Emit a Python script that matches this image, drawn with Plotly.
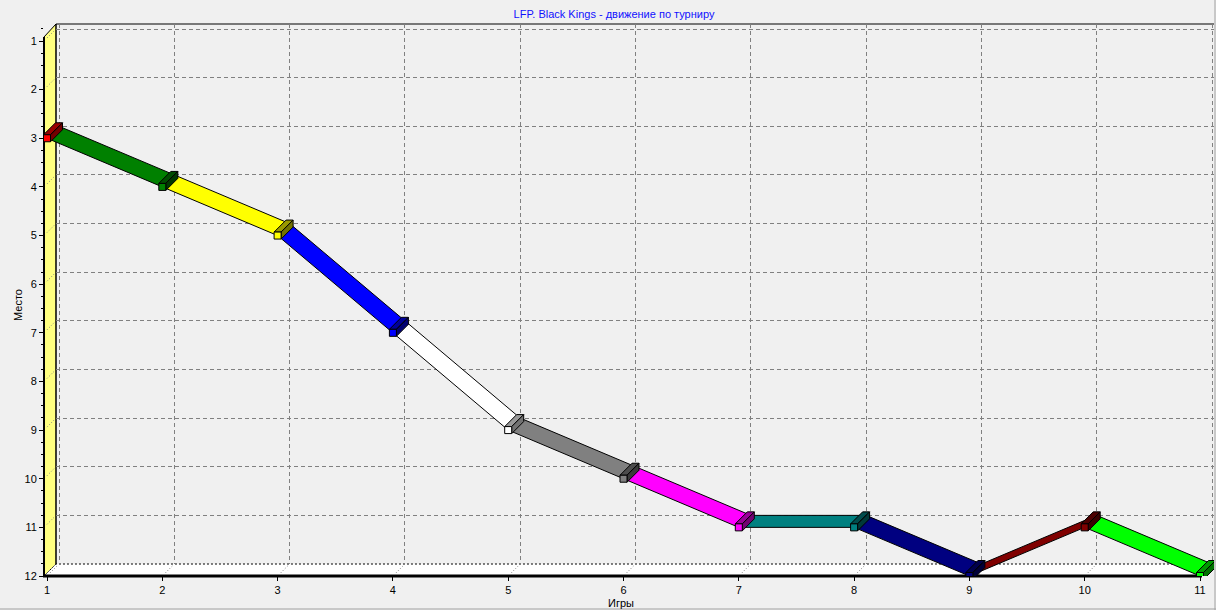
import plotly.graph_objects as go

# ---------------- data ----------------
games = list(range(1, 12))
places = [3, 4, 5, 7, 9, 10, 11, 11, 12, 11, 12]
point_colors = ["#FF0000", "#008000", "#FFFF00", "#0000FF", "#FFFFFF", "#808080",
                "#FF00FF", "#008080", "#000080", "#800000", "#00FF00"]
x_ticks = list(range(1, 12))
y_ticks = list(range(1, 13))
title_text = "LFP. Black Kings - движение по турниру"
x_title = "Игры"
y_title = "Место"

# ---------------- geometry (pixels) ----------------
W, H = 1216, 610
L, R, T, B = 44, 1214, 24, 576      # whole 3D box area
DEPTH = 12                          # 3D depth in px
X_FIRST_PX, X_LAST_PX = 47, 1200    # front-plane pixel of first/last game
Y_FIRST_PX, Y_LAST_PX = 41, 576     # front-plane pixel of place 1 / place 12
FRONT_RIGHT = 1202

g0, g1 = x_ticks[0], x_ticks[-1]
p0, p1 = y_ticks[0], y_ticks[-1]
sx = (X_LAST_PX - X_FIRST_PX) / (g1 - g0)
sy = (Y_LAST_PX - Y_FIRST_PX) / (p1 - p0)
DX = DEPTH / sx
DY = DEPTH / sy
PW, PH = R - L, B - T


def px(xp):
    return (xp - L) / PW


def py(yp):
    return (B - yp) / PH


def darker(hexcol, f):
    h = hexcol.lstrip("#")
    r, g, b = (int(h[i:i + 2], 16) for i in (0, 2, 4))
    return "rgb(%d,%d,%d)" % (int(r * f), int(g * f), int(b * f))


FONT = "Arial, Liberation Sans, sans-serif"

fig = go.Figure()

# back-wall grid subplot (x / y)
fig.add_trace(go.Scatter(x=[None], y=[None], xaxis="x", yaxis="y",
                         showlegend=False, hoverinfo="skip"))

# ribbons (front subplot x2 / y2)
for i in range(len(games) - 1):
    xa, xb = games[i], games[i + 1]
    ya, yb = places[i], places[i + 1]
    fig.add_trace(go.Scatter(
        x=[xa, xb, xb + DX, xa + DX, xa],
        y=[ya, yb, yb - DY, ya - DY, ya],
        xaxis="x2", yaxis="y2", mode="lines", fill="toself",
        fillcolor=point_colors[i + 1], line=dict(color="black", width=1),
        showlegend=False, hoverinfo="skip"))

# marker boxes
hx, hy = 3.5 / sx, 3.5 / sy
for g, p, c in zip(games, places, point_colors):
    # top face
    fig.add_trace(go.Scatter(
        x=[g - hx, g + hx, g + hx + DX, g - hx + DX, g - hx],
        y=[p - hy, p - hy, p - hy - DY, p - hy - DY, p - hy],
        xaxis="x2", yaxis="y2", mode="lines", fill="toself",
        fillcolor=darker(c, 0.6), line=dict(color="black", width=1),
        showlegend=False, hoverinfo="skip"))
    # side face
    fig.add_trace(go.Scatter(
        x=[g + hx, g + hx, g + hx + DX, g + hx + DX, g + hx],
        y=[p - hy, p + hy, p + hy - DY, p - hy - DY, p - hy],
        xaxis="x2", yaxis="y2", mode="lines", fill="toself",
        fillcolor=darker(c, 0.45), line=dict(color="black", width=1),
        showlegend=False, hoverinfo="skip"))
    # front face
    fig.add_trace(go.Scatter(
        x=[g - hx, g + hx, g + hx, g - hx, g - hx],
        y=[p - hy, p - hy, p + hy, p + hy, p - hy],
        xaxis="x2", yaxis="y2", mode="lines", fill="toself",
        fillcolor=c, line=dict(color="black", width=1),
        showlegend=False, hoverinfo="skip"))

shapes = []
# left wall
shapes.append(dict(type="path", xref="paper", yref="paper", layer="below",
                   path="M %f %f L %f %f L %f %f L %f %f Z" % (
                       px(L), py(B), px(L), py(Y_FIRST_PX - 4),
                       px(L + DEPTH), py(T), px(L + DEPTH), py(B - DEPTH)),
                   fillcolor="#FFFF80", line=dict(color="black", width=1)))
# floor
shapes.append(dict(type="path", xref="paper", yref="paper", layer="below",
                   path="M %f %f L %f %f L %f %f L %f %f Z" % (
                       px(L), py(B), px(FRONT_RIGHT), py(B),
                       px(FRONT_RIGHT + DEPTH), py(B - DEPTH), px(L + DEPTH), py(B - DEPTH)),
                   fillcolor="#FFFFFF", line=dict(color="black", width=1, dash="2px,2px")))
# diagonal depth marks on wall and floor
for p in y_ticks:
    yp = Y_FIRST_PX + (p - p0) * sy
    shapes.append(dict(type="line", xref="paper", yref="paper", layer="below",
                       x0=px(L + 3), y0=py(yp - 3), x1=px(L + DEPTH - 2), y1=py(yp - DEPTH + 2),
                       line=dict(color="#808080", width=1, dash="1px,2px")))
for g in x_ticks:
    xp = X_FIRST_PX + (g - g0) * sx
    shapes.append(dict(type="line", xref="paper", yref="paper", layer="below",
                       x0=px(xp + 3), y0=py(B - 3), x1=px(xp + DEPTH - 2), y1=py(B - DEPTH + 2),
                       line=dict(color="#808080", width=1, dash="1px,2px")))
# back frame top / left
shapes.append(dict(type="line", xref="paper", yref="paper", layer="below",
                   x0=px(L + DEPTH), y0=py(T), x1=px(R), y1=py(T),
                   line=dict(color="black", width=1)))
shapes.append(dict(type="line", xref="paper", yref="paper", layer="below",
                   x0=px(L + DEPTH), y0=py(T), x1=px(L + DEPTH), y1=py(B - DEPTH),
                   line=dict(color="black", width=1)))
# front axis lines
shapes.append(dict(type="line", xref="paper", yref="paper", layer="below",
                   x0=px(L), y0=py(Y_FIRST_PX - 4), x1=px(L), y1=py(B),
                   line=dict(color="black", width=2)))
shapes.append(dict(type="line", xref="paper", yref="paper", layer="below",
                   x0=px(L - 1), y0=py(B), x1=px(FRONT_RIGHT), y1=py(B),
                   line=dict(color="black", width=3)))
# panel border
shapes.append(dict(type="line", xref="paper", yref="paper", layer="below",
                   x0=px(0), y0=py(H - 1), x1=px(W), y1=py(H - 1),
                   line=dict(color="#A0A0A0", width=1)))
shapes.append(dict(type="line", xref="paper", yref="paper", layer="below",
                   x0=px(W - 1), y0=py(0), x1=px(W - 1), y1=py(H),
                   line=dict(color="#A0A0A0", width=1)))

grid_dash = "4px,3px"
fig.update_layout(
    width=W, height=H,
    margin=dict(l=L, r=W - R, t=T, b=H - B, pad=0),
    paper_bgcolor="#F0F0F0", plot_bgcolor="rgba(0,0,0,0)",
    font=dict(family=FONT, size=11, color="black"),
    showlegend=False,
    title=dict(text=title_text, x=614 / W, xref="container", xanchor="center",
               y=1 - 14 / H, yref="container", yanchor="middle",
               font=dict(family=FONT, size=11, color="#1010FF")),
    # back grid axes
    xaxis=dict(domain=[DEPTH / PW, 1],
               range=[g0 - (X_FIRST_PX - L) / sx,
                      g0 + (R - (X_FIRST_PX + DEPTH)) / sx],
               tickvals=x_ticks, showticklabels=False, ticks="",
               showgrid=True, gridcolor="#808080", griddash=grid_dash, gridwidth=1,
               zeroline=False, showline=False, anchor="y", fixedrange=True),
    yaxis=dict(domain=[DEPTH / PH, 1],
               range=[p1, p0 - (Y_FIRST_PX - DEPTH - T) / sy],
               tickvals=y_ticks, showticklabels=False, ticks="",
               showgrid=True, gridcolor="#808080", griddash=grid_dash, gridwidth=1,
               zeroline=False, showline=False, anchor="x", fixedrange=True),
    # front axes
    xaxis2=dict(domain=[0, 1],
                range=[g0 - (X_FIRST_PX - L) / sx, g0 + (R - X_FIRST_PX) / sx],
                tickvals=x_ticks, ticktext=[str(v) for v in x_ticks],
                ticks="outside", ticklen=4, tickcolor="black",
                showgrid=False, zeroline=False, showline=False, anchor="y2",
                tickfont=dict(size=11, color="black"), fixedrange=True),
    yaxis2=dict(domain=[0, 1],
                range=[p1 + (B - Y_LAST_PX) / sy, p0 - (Y_FIRST_PX - T) / sy],
                tickvals=y_ticks, ticktext=[str(v) for v in y_ticks],
                ticks="outside", ticklen=4, tickcolor="black",
                minor=dict(dtick=0.25, ticks="outside", ticklen=2, tickcolor="black", showgrid=False),
                showgrid=False, zeroline=False, showline=False, anchor="x2",
                tickfont=dict(size=11, color="black"), fixedrange=True),
    shapes=shapes,
    annotations=[
        dict(text=y_title, xref="paper", yref="paper", x=px(18), y=py(305),
             xanchor="center", yanchor="middle", textangle=-90, showarrow=False,
             font=dict(size=11, color="black")),
        dict(text=x_title, xref="paper", yref="paper", x=px(621), y=py(603),
             xanchor="center", yanchor="middle", showarrow=False,
             font=dict(size=11, color="black")),
    ],
)

fig.write_html("out.html", config={"displayModeBar": False},
               post_script="document.body.style.margin='0';"
                           "document.body.style.padding='0';"
                           "document.body.style.background='#F0F0F0';"
                           "document.body.style.overflow='hidden';")
